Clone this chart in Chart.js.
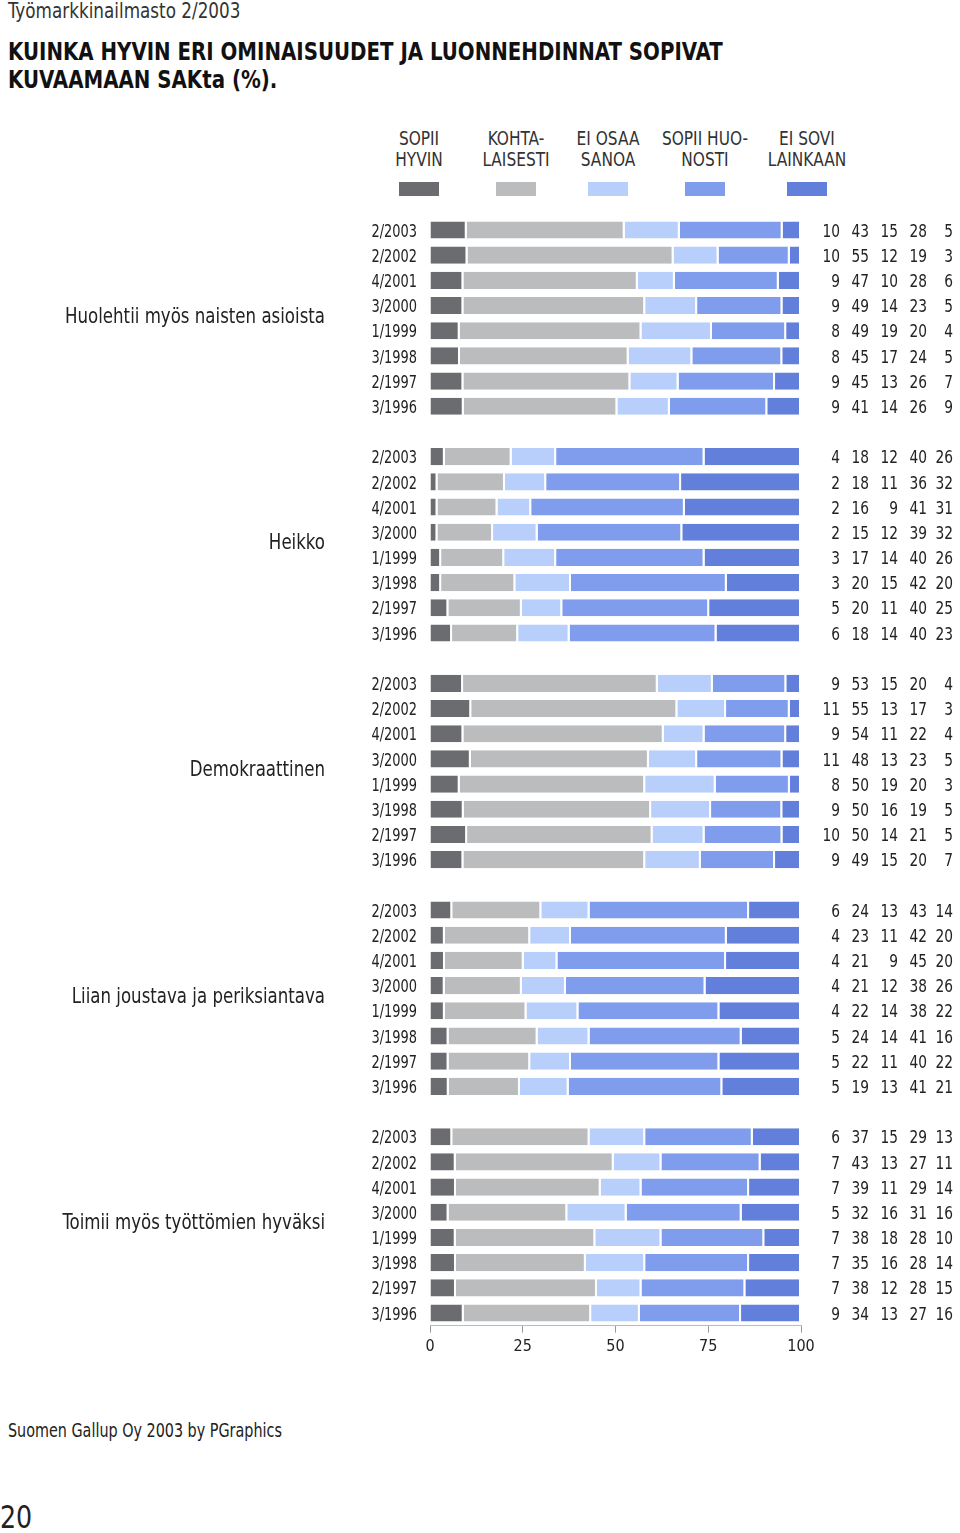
<!DOCTYPE html>
<html>
<head>
<meta charset="utf-8">
<script src="https://cdn.jsdelivr.net/npm/chart.js@4"></script>
<style>
  body { margin: 0; background: #fff; font-family: 'DejaVu Sans Condensed', sans-serif; color: #222; }
  #page { position: relative; width: 960px; height: 1533px; overflow: hidden; }
  .abs { position: absolute; white-space: nowrap; transform-origin: left top; }
  #kicker { left: 8px; top: -1px; font-size: 21px; color: #333; transform: scaleX(0.89); }
  #title { left: 8px; top: 38px; font-size: 25px; font-weight: bold; line-height: 28px; color: #111; transform: scaleX(0.88); }
  .leg { position: absolute; top: 128px; width: 120px; text-align: center; font-size: 19px; line-height: 21px; color: #333; transform: scaleX(0.9); }
  .sw { position: absolute; top: 182px; width: 40px; height: 14px; }
  #foot { left: 8px; top: 1419px; font-size: 19px; color: #222; transform: scaleX(0.84); }
  #pageno { left: 0px; top: 1498px; font-size: 32px; color: #222; transform: scaleX(0.88); }
  canvas { position: absolute; left: 0; top: 200px; }
</style>
</head>
<body>
<div id="page">
  <div id="kicker" class="abs">Työmarkkinailmasto 2/2003</div>
  <div id="title" class="abs">KUINKA HYVIN ERI OMINAISUUDET JA LUONNEHDINNAT SOPIVAT<br>KUVAAMAAN SAKta (%).</div>
  <div id="legend"></div>
  <canvas id="chart" width="960" height="1170"></canvas>
  <div id="foot" class="abs">Suomen Gallup Oy 2003 by PGraphics</div>
  <div id="pageno" class="abs">20</div>
</div>
<script>
// survey rounds, same for every statement
const periods = ['2/2003', '2/2002', '4/2001', '3/2000', '1/1999', '3/1998', '2/1997', '3/1996'];

const statements = [
  'Huolehtii myös naisten asioista',
  'Heikko',
  'Demokraattinen',
  'Liian joustava ja periksiantava',
  'Toimii myös työttömien hyväksi',
];

const seriesNames = [['SOPII', 'HYVIN'], ['KOHTA-', 'LAISESTI'], ['EI OSAA', 'SANOA'], ['SOPII HUO-', 'NOSTI'], ['EI SOVI', 'LAINKAAN']];
const seriesColors = ['#6b6c70', '#bbbcbe', '#b8cffb', '#809ded', '#627fdb'];

// one row of 8 per statement, in statement order
const sopiiHyvin = [
  10, 10, 9, 9, 8, 8, 9, 9,
  4, 2, 2, 2, 3, 3, 5, 6,
  9, 11, 9, 11, 8, 9, 10, 9,
  6, 4, 4, 4, 4, 5, 5, 5,
  6, 7, 7, 5, 7, 7, 7, 9,
];
const kohtalaisesti = [
  43, 55, 47, 49, 49, 45, 45, 41,
  18, 18, 16, 15, 17, 20, 20, 18,
  53, 55, 54, 48, 50, 50, 50, 49,
  24, 23, 21, 21, 22, 24, 22, 19,
  37, 43, 39, 32, 38, 35, 38, 34,
];
const eiOsaaSanoa = [
  15, 12, 10, 14, 19, 17, 13, 14,
  12, 11, 9, 12, 14, 15, 11, 14,
  15, 13, 11, 13, 19, 16, 14, 15,
  13, 11, 9, 12, 14, 14, 11, 13,
  15, 13, 11, 16, 18, 16, 12, 13,
];
const sopiiHuonosti = [
  28, 19, 28, 23, 20, 24, 26, 26,
  40, 36, 41, 39, 40, 42, 40, 40,
  20, 17, 22, 23, 20, 19, 21, 20,
  43, 42, 45, 38, 38, 41, 40, 41,
  29, 27, 29, 31, 28, 28, 28, 27,
];
const eiSoviLainkaan = [
  5, 3, 6, 5, 4, 5, 7, 9,
  26, 32, 31, 32, 26, 20, 25, 23,
  4, 3, 4, 5, 3, 5, 5, 7,
  14, 20, 20, 26, 22, 16, 22, 21,
  13, 11, 14, 16, 10, 14, 15, 16,
];

const xTicks = [0, 25, 50, 75, 100];

const FONT = "'DejaVu Sans Condensed', sans-serif";
const allSeries = [sopiiHyvin, kohtalaisesti, eiOsaaSanoa, sopiiHuonosti, eiSoviLainkaan];

// legend above the chart
const legendX = [419, 516, 608, 705, 807];
const legend = document.getElementById('legend');
seriesNames.forEach((name, i) => {
  const t = document.createElement('div');
  t.className = 'leg';
  t.style.left = (legendX[i] - 60) + 'px';
  t.innerHTML = name.join('<br>');
  legend.appendChild(t);
  const s = document.createElement('div');
  s.className = 'sw';
  s.style.left = (legendX[i] - 20) + 'px';
  s.style.background = seriesColors[i];
  legend.appendChild(s);
});

// rows: 8 periods per statement, an empty row between statements
const rowLabels = [];
const rowIndex = [];
statements.forEach((st, g) => {
  periods.forEach((p, k) => {
    rowLabels.push(p);
    rowIndex.push(g * periods.length + k);
  });
  if (g < statements.length - 1) {
    rowLabels.push('');
    rowIndex.push(null);
  }
});

// the original scales each row to a full 100 % bar (rounded figures may sum to 99 or 101)
const rowTotal = r => allSeries.reduce((sum, values) => sum + values[r], 0);

const datasets = allSeries.map((values, i) => ({
  label: seriesNames[i].join(' '),
  data: rowIndex.map(r => (r === null ? null : values[r] * 100 / rowTotal(r))),
  backgroundColor: seriesColors[i],
  borderColor: '#ffffff',
  borderWidth: { left: 0, right: 2, top: 0, bottom: 0 },
  borderSkipped: false,
  barPercentage: 0.68,
  categoryPercentage: 1,
}));

const numberCols = [840, 869, 898, 927, 953];

// condensed text: DejaVu Condensed squeezed a little more
function narrowText(ctx, text, x, y, sx) {
  ctx.save();
  ctx.translate(x, y);
  ctx.scale(sx, 1);
  ctx.fillText(text, 0, 0);
  ctx.restore();
}

const sideText = {
  id: 'sideText',
  afterDraw(chart) {
    const ctx = chart.ctx;
    const y = chart.scales.y;
    ctx.save();
    ctx.fillStyle = '#222';
    ctx.textBaseline = 'middle';
    ctx.textAlign = 'right';
    ctx.font = '18px ' + FONT;
    rowLabels.forEach((lab, i) => {
      if (!lab) return;
      const py = y.getPixelForValue(i) + 2;
      narrowText(ctx, lab, 417, py, 0.8);
      const r = rowIndex[i];
      allSeries.forEach((values, s) => {
        narrowText(ctx, String(values[r]), numberCols[s], py, 0.85);
      });
    });
    ctx.font = '21px ' + FONT;
    statements.forEach((st, g) => {
      const first = g * (periods.length + 1);
      const py = (y.getPixelForValue(first + 3) + y.getPixelForValue(first + 4)) / 2 - 1;
      narrowText(ctx, st, 325, py, 0.88);
    });
    ctx.restore();
  },
};

new Chart(document.getElementById('chart'), {
  type: 'bar',
  data: { labels: rowLabels, datasets: datasets },
  options: {
    indexAxis: 'y',
    responsive: false,
    animation: false,
    layout: { padding: { left: 430, right: 159, top: 17.4, bottom: 0 } },
    plugins: { legend: { display: false }, tooltip: { enabled: false } },
    scales: {
      y: { stacked: true, display: false },
      x: {
        stacked: true,
        min: 0,
        max: 100,
        afterFit(scale) { scale.height = 44.4; },
        afterBuildTicks(scale) { scale.ticks = xTicks.map(v => ({ value: v })); },
        grid: { drawOnChartArea: false, drawTicks: true, tickLength: 7, color: '#999' },
        border: { display: true, color: '#bbb' },
        ticks: { color: '#222', font: { family: FONT, size: 16 }, padding: 5 },
      },
    },
  },
  plugins: [sideText],
});
</script>
</body>
</html>
